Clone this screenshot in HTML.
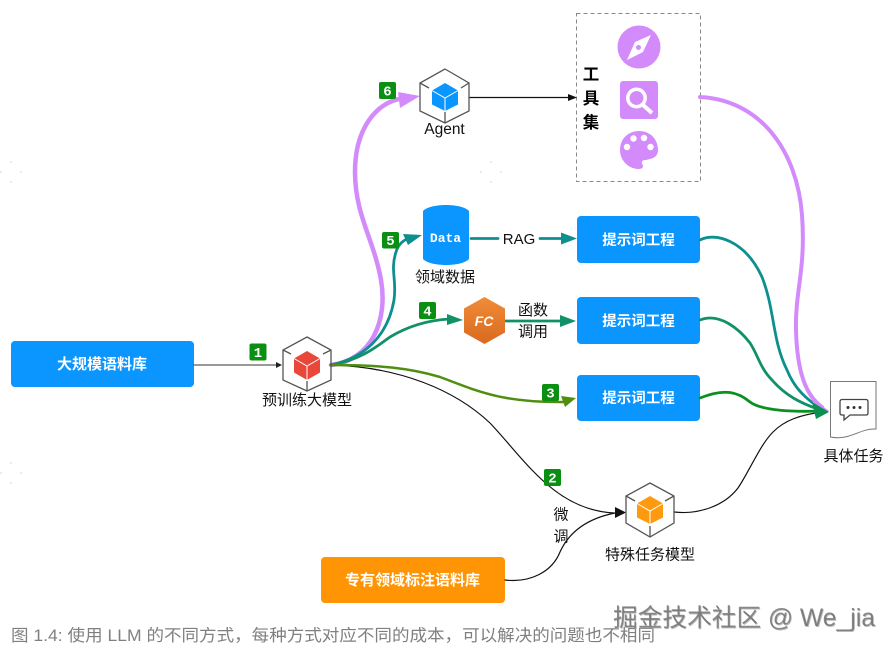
<!DOCTYPE html>
<html><head><meta charset="utf-8">
<style>
html,body{margin:0;padding:0;background:#fff}
svg{display:block}
text{font-family:"Liberation Sans","Noto Sans CJK SC",sans-serif}
</style></head>
<body>
<svg width="895" height="651" viewBox="0 0 895 651" xmlns="http://www.w3.org/2000/svg">
<defs>
<linearGradient id="fc" x1="0" y1="0" x2="0" y2="1"><stop offset="0" stop-color="#f08c38"/><stop offset="1" stop-color="#d9691f"/></linearGradient>
</defs>
<rect width="895" height="651" fill="#fff"/>

<!-- faint specks -->
<g fill="#e4e4e4">
<circle cx="11" cy="162" r="1"/><circle cx="21" cy="172" r="1"/><circle cx="1" cy="172" r="1"/><circle cx="11" cy="182" r="1"/>
<circle cx="491" cy="162" r="1"/><circle cx="481" cy="172" r="1"/><circle cx="501" cy="172" r="1"/><circle cx="491" cy="182" r="1"/>
<circle cx="11" cy="463" r="1"/><circle cx="21" cy="473" r="1"/><circle cx="1" cy="473" r="1"/><circle cx="11" cy="483" r="1"/>
</g>

<!-- boxes -->
<rect x="11" y="341" width="183" height="46" rx="4" fill="#0a95ff"/>
<text x="102" y="369" font-size="15" font-weight="700" fill="#fff" text-anchor="middle">大规模语料库</text>
<rect x="577" y="216" width="123" height="47" rx="4" fill="#0a95ff"/>
<text x="638.5" y="245" font-size="14.5" font-weight="700" fill="#fff" text-anchor="middle">提示词工程</text>
<rect x="577" y="297" width="123" height="47" rx="4" fill="#0a95ff"/>
<text x="638.5" y="326" font-size="14.5" font-weight="700" fill="#fff" text-anchor="middle">提示词工程</text>
<rect x="577" y="375" width="123" height="46" rx="4" fill="#0a95ff"/>
<text x="638.5" y="403" font-size="14.5" font-weight="700" fill="#fff" text-anchor="middle">提示词工程</text>
<rect x="321" y="557" width="184" height="46" rx="4" fill="#ff9505"/>
<text x="412.5" y="585" font-size="15" font-weight="700" fill="#fff" text-anchor="middle">专有领域标注语料库</text>

<!-- dashed tools -->
<rect x="576.5" y="13.5" width="124" height="168" fill="none" stroke="#888" stroke-width="1" stroke-dasharray="4 3"/>
<g font-size="16.5" font-weight="700" fill="#000" text-anchor="middle">
<text x="591" y="80">工</text><text x="591" y="104">具</text><text x="591" y="128">集</text>
</g>
<!-- compass -->
<circle cx="639" cy="47" r="21.5" fill="#d38bfb"/>
<path d="M651 35 L643 52 L627 60 L635 42 Z" fill="#fff"/>
<circle cx="638.5" cy="47.5" r="2.5" fill="#d38bfb"/>
<!-- search -->
<rect x="620" y="81" width="38" height="38" rx="3" fill="#d38bfb"/>
<circle cx="636.5" cy="98" r="8.7" fill="none" stroke="#fff" stroke-width="3.5"/>
<path d="M643 105 L652 113" stroke="#fff" stroke-width="4"/>
<!-- palette -->
<path d="M639 131 C628 131 620 139 620 150 C620 161 629 169 639 169 C643 169 644 166 642 164 C641 161 643 160 646 160 L650 159 C655 158 658 155 658 150 C658 139 650 131 639 131 Z" fill="#d38bfb"/>
<circle cx="627" cy="147" r="3.2" fill="#fff"/><circle cx="633.5" cy="138.5" r="3.2" fill="#fff"/><circle cx="644" cy="138" r="3.2" fill="#fff"/><circle cx="650.5" cy="147" r="3.2" fill="#fff"/>

<!-- connectors -->
<g fill="none" stroke-linecap="round">
<path d="M194 365 L276 365" stroke="#333" stroke-width="1"/>
<path d="M469 97.500 L569 97.500" stroke="#111" stroke-width="1.200"/>
<!-- black: model to special -->
<path d="M331 365 C 400 367, 455 390, 490 423 C 525 460, 555 510, 614 513" stroke="#111" stroke-width="1.200"/>
<path d="M505 580 C 530 583, 552 572, 560 552 C 570 530, 590 518, 615 513" stroke="#111" stroke-width="1.200"/>
<path d="M674 512 C 700 515, 725 505, 738 488 C 750 470, 760 445, 773 432 C 785 420, 800 415, 822 412" stroke="#111" stroke-width="1.200"/>
<!-- purple -->
<path d="M700 97 C 760 100, 797 150, 802 215 C 806 270, 795 290, 796 330 C 797 370, 805 395, 822 407" stroke="#d38bfb" stroke-width="4"/>
<path d="M331 365 C 372 360, 388 320, 381 280 C 374 240, 355 215, 355 172 C 355 130, 375 102, 404 98" stroke="#d38bfb" stroke-width="4.500"/>
<!-- teal -->
<path d="M331 365 C 365 358, 388 335, 394 300 C 397 280, 390 270, 396 252 C 398 245, 402 241, 409 238" stroke="#0e8f8f" stroke-width="2.800"/>
<path d="M471 238.500 L498 238.500 M540 238.500 L566 238.500" stroke="#0e8f8f" stroke-width="2.800"/>
<path d="M700 240 C 715 232, 745 240, 762 277 C 775 310, 772 340, 787 370 C 795 390, 808 400, 820 408" stroke="#0e8f8f" stroke-width="2.800"/>
<!-- green 4 -->
<path d="M331 365 C 360 360, 375 348, 390 337 C 410 325, 430 320, 450 319" stroke="#12906a" stroke-width="2.800"/>
<path d="M505 321 L566 321" stroke="#12906a" stroke-width="2.800"/>
<path d="M700 320 C 720 312, 740 330, 750 343 C 758 355, 760 368, 772 380 C 785 395, 800 403, 818 409" stroke="#12906a" stroke-width="2.800"/>
<!-- green 3 -->
<path d="M331 365 C 380 365, 410 368, 440 377 C 475 390, 500 403, 565 402" stroke="#4f8f10" stroke-width="2.500"/>
<path d="M700 398 C 725 388, 738 392, 750 402 C 762 411, 795 412, 820 411" stroke="#0a9020" stroke-width="2.800"/>
</g>

<!-- arrowheads -->
<path d="M282 365 L276 362 L276 368 Z" fill="#222"/>
<path d="M577 97.500 L568 94 L568 101 Z" fill="#111"/>
<path d="M420 96 L398 92 L400 108 Z" fill="#d38bfb"/>
<path d="M422 235 L403 234 L408 245 Z" fill="#0e8f8f"/>
<path d="M463 320 L447 314 L447 325 Z" fill="#12906a"/>
<path d="M576 321 L560 315 L560 327 Z" fill="#12906a"/>
<path d="M577 238.500 L561 232.500 L561 244.500 Z" fill="#0e8f8f"/>
<path d="M576 398 L561 396 L565 407 Z" fill="#4f8f10"/>
<path d="M626 512.500 L615 507 L615 518 Z" fill="#111"/>
<path d="M829 411 L812 398 L815 416 Z" fill="#d38bfb"/>
<path d="M829 412 L812 402 L816 419 Z" fill="#0a9050"/>

<!-- hex model -->
<g fill="none" stroke="#555" stroke-width="1.300">
<path d="M307 337 L331 350 L331 380 L307 391 L283 380 L283 350 Z"/>
<path d="M283 350 L291 354 M331 350 L323 354 M307 391 L307 381"/>
<path d="M445 69 L469 83 L469 111 L445 123 L420 111 L420 83 Z"/>
<path d="M420 83 L429 88 M469 83 L461 88 M445 123 L445 112"/>
<path d="M650 483 L674 496 L674 523 L650 537 L626 523 L626 496 Z"/>
<path d="M626 496 L635 501 M674 496 L665 501 M650 537 L650 526"/>
</g>
<path d="M307 351 L320 358.500 L320 372.500 L307 380 L294 372.500 L294 358.500 Z" fill="#e8473a"/>
<path d="M294 358.500 L307 366 L320 358.500 M307 366 L307 380" fill="none" stroke="#fff" stroke-width="1"/>
<path d="M445 83 L458 90.500 L458 104.500 L445 111 L432 104.500 L432 90.500 Z" fill="#0a95ff"/>
<path d="M432 90.500 L445 98 L458 90.500 M445 98 L445 111" fill="none" stroke="#fff" stroke-width="1"/>
<path d="M650 496 L663 503.500 L663 517.500 L650 524 L637 517.500 L637 503.500 Z" fill="#ff9a0e"/>
<path d="M637 503.500 L650 511 L663 503.500 M650 511 L650 524" fill="none" stroke="#fff" stroke-width="1"/>

<!-- FC -->
<path d="M484.500 297 L505 308.500 L505 332.500 L484.500 344 L464 332.500 L464 308.500 Z" fill="url(#fc)"/>
<text x="484" y="326" font-size="14" font-weight="700" font-style="italic" fill="#fff" text-anchor="middle">FC</text>

<!-- cylinder -->
<path d="M423 211 C 430 203, 462 203, 469 211 L469 259 C 462 267, 430 267, 423 259 Z" fill="#0a95ff"/>
<text x="445.500" y="242" font-size="13" font-weight="700" fill="#fff" text-anchor="middle" style="font-family:'Liberation Mono',monospace">Data</text>

<!-- doc -->
<path d="M830.500 381.500 L876 381.500 L876 429 C 860 428, 850 441, 830.500 437 Z" fill="#fff" stroke="#777" stroke-width="1"/>
<path d="M842 399.500 L866 399.500 Q868 399.500 868 402 L868 413 Q868 415 866 415 L850 415 L844 420 L844 415 L842 415 Q840 415 840 413 L840 402 Q840 399.500 842 399.500 Z" fill="#fff" stroke="#444" stroke-width="1.300"/>
<circle cx="848" cy="407.500" r="1.500" fill="#333"/><circle cx="854" cy="407.500" r="1.500" fill="#333"/><circle cx="860" cy="407.500" r="1.500" fill="#333"/>

<!-- labels -->
<g fill="#111" text-anchor="middle">
<text x="444.500" y="134" font-size="15.500">Agent</text>
<text x="307" y="405" font-size="15">预训练大模型</text>
<text x="445" y="282" font-size="15">领域数据</text>
<text x="519" y="244" font-size="15">RAG</text>
<text x="533" y="315" font-size="15">函数</text>
<text x="533" y="336.500" font-size="15">调用</text>
<text x="561" y="519.500" font-size="15">微</text>
<text x="561" y="541.500" font-size="15">调</text>
<text x="650" y="559.500" font-size="15">特殊任务模型</text>
<text x="853.500" y="461" font-size="15">具体任务</text>
</g>

<!-- badges -->
<g fill="#0a8f12">
<rect x="249.500" y="343.500" width="17" height="17" rx="2"/>
<rect x="379" y="82" width="17" height="17" rx="2"/>
<rect x="382" y="232" width="17" height="16.500" rx="2"/>
<rect x="419" y="302" width="17" height="17" rx="2"/>
<rect x="542" y="384" width="17" height="17" rx="2"/>
<rect x="544" y="469" width="17" height="17" rx="2"/>
</g>
<g fill="#fff" font-size="14" font-weight="700" text-anchor="middle">
<text x="258" y="357" style="font-family:'Liberation Mono',monospace">1</text>
<text x="387.500" y="95.500" style="font-family:'Liberation Mono',monospace">6</text>
<text x="390.500" y="245" style="font-family:'Liberation Mono',monospace">5</text>
<text x="427.500" y="315.500" style="font-family:'Liberation Mono',monospace">4</text>
<text x="550.500" y="397.500" style="font-family:'Liberation Mono',monospace">3</text>
<text x="552.500" y="482.500" style="font-family:'Liberation Mono',monospace">2</text>
</g>

<!-- caption and watermark -->
<text x="11" y="641" font-size="16.500" fill="#808080" textLength="644" lengthAdjust="spacingAndGlyphs">图 1.4: 使用 LLM 的不同方式，每种方式对应不同的成本，可以解决的问题也不相同</text>
<text x="613.800" y="626.800" font-size="24.700" fill="#aaa" opacity=".8">掘金技术社区 @ We_jia</text>
<text x="613" y="626" font-size="24.700" fill="#666" opacity=".75">掘金技术社区 @ We_jia</text>
</svg>
</body></html>
